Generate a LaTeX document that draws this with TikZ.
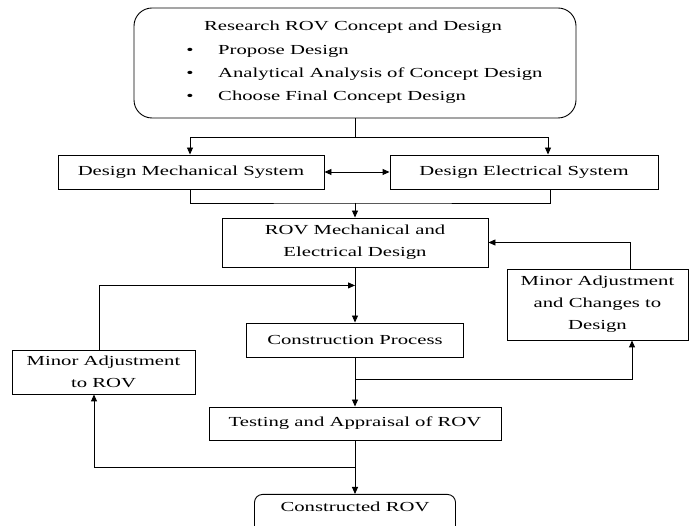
\documentclass[tikz,border=0pt]{standalone}
\usepackage{fontspec}
\setmainfont{Liberation Serif}[FakeStretch=1.5]
\usetikzlibrary{arrows.meta}
\begin{document}
\begin{tikzpicture}[x=1pt,y=-1pt,
  font=\fontsize{13.8}{22}\selectfont,
  box/.style={draw, line width=0.9pt, inner sep=0pt, align=center},
  ln/.style={line width=0.9pt},
  arr/.style={line width=0.9pt, -{Triangle[length=7pt,width=6pt]}},
  dbl/.style={line width=0.9pt, {Triangle[length=7pt,width=6pt]}-{Triangle[length=7pt,width=6pt]}}]
\useasboundingbox (0,0) rectangle (689,526);

% top box
\node[box, rounded corners=18pt, minimum width=442pt, minimum height=110pt] (top) at (355,63) {};
\node[anchor=mid] (t0) at (353,28) {Research ROV Concept and Design};
\node[anchor=mid] (b1) at (190,52) {\textbullet};
\node[anchor=mid] (b2) at (190,75) {\textbullet};
\node[anchor=mid] (b3) at (190,98) {\textbullet};
\node[anchor=mid west, inner sep=0pt] (t1) at (218,52) {Propose Design};
\node[anchor=mid west, inner sep=0pt] (t2) at (218,75) {Analytical Analysis of Concept Design};
\node[anchor=mid west, inner sep=0pt] (t3) at (218,98) {Choose Final Concept Design};

% boxes
\node[box, minimum width=266pt, minimum height=34pt] (mech) at (191,172) {Design Mechanical System};
\node[box, minimum width=268pt, minimum height=34pt] (elec) at (524,172) {Design Electrical System};
\node[box, minimum width=266pt, minimum height=49pt] (rov) at (355,242.5) {ROV Mechanical and\\Electrical Design};
\node[box, minimum width=181pt, minimum height=71pt] (chg) at (597.5,304.5) {Minor Adjustment\\and Changes to\\Design};
\node[box, minimum width=217pt, minimum height=34pt] (cons) at (355,340) {Construction Process};
\node[box, minimum width=183pt, minimum height=44pt] (adj) at (103.5,372) {Minor Adjustment\\to ROV};
\node[box, minimum width=292pt, minimum height=33pt] (test) at (355,423.5) {Testing and Appraisal of ROV};
\node[box, rounded corners=8pt, anchor=north, minimum width=201pt, inner ysep=7pt, text depth=34pt] (fin) at (355,494) {Constructed ROV};

% connectors
\coordinate (s1) at (355,137);
\coordinate (s2) at (355,203);
\draw[ln] (top.south) -- (s1);
\draw[arr] (s1) -| ([xshift=-1pt]mech.north);
\draw[arr] (s1) -| ([xshift=24pt]elec.north);
\draw[dbl] (mech.east) -- (elec.west);
\draw[ln] ([xshift=-1pt]mech.south) |- (s2) -| ([xshift=26pt]elec.south);
\draw[arr] (s2) -- (rov.north);
\draw[arr] ([xshift=32.5pt]chg.north) |- (rov.east);
\draw[arr] (rov.south) -- (cons.north);
\draw[arr] ([xshift=-4.5pt]adj.north) |- ([yshift=-18pt]rov.south);
\draw[arr] (cons.south) -- (test.north);
\draw[arr] ([yshift=-22pt]cons.south) -| ([xshift=34.5pt]chg.south);
\draw[arr] (test.south) -- (fin.north);
\draw[arr] ([yshift=-27pt]test.south) -| ([xshift=-9.5pt]adj.south);
\end{tikzpicture}
\end{document}
